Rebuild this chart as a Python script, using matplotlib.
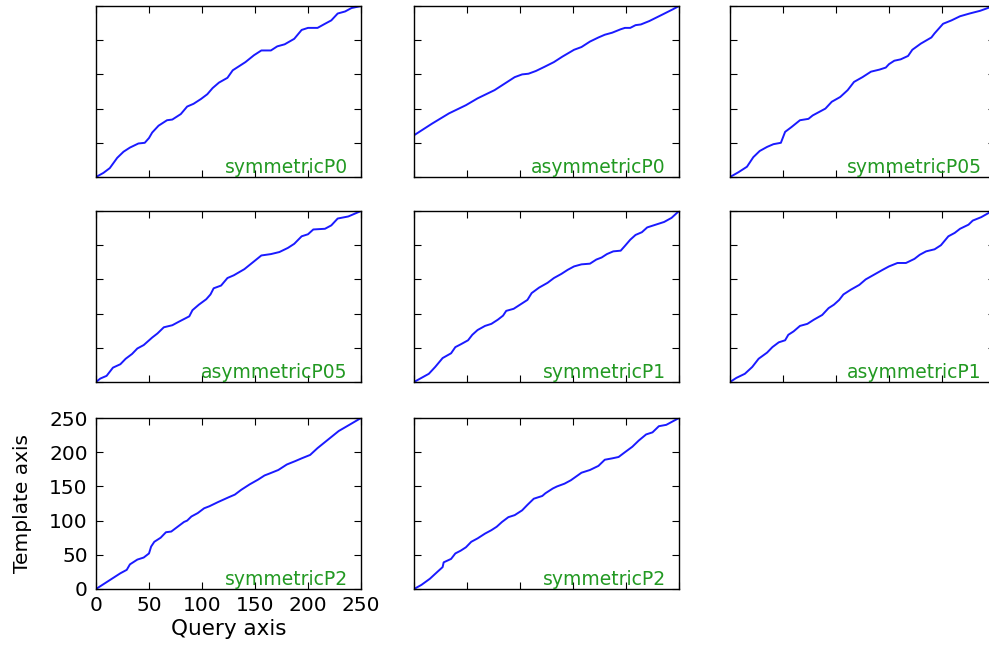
import matplotlib
matplotlib.use("Agg")
import matplotlib.pyplot as plt

# Warping paths (query index, template index)
sym_p0_x = [0, 7, 13, 20, 26, 32, 40, 46, 50, 53, 59, 67, 72, 80, 86, 92, 99, 105, 110,
            116, 124, 129, 135, 141, 149, 156, 165, 171, 178, 187, 194, 200, 209, 216,
            222, 228, 235, 241, 250]
sym_p0_y = [0, 6, 13, 28, 37, 43, 49, 50, 57, 65, 75, 83, 84, 92, 103, 107, 114, 121, 130,
            138, 145, 156, 162, 168, 178, 185, 185, 191, 194, 202, 215, 218, 218, 224,
            229, 239, 242, 247, 250]

asym_p0_x = [0, 0, 17, 33, 49, 60, 76, 88, 95, 102, 108, 115, 123, 132, 140, 151, 158,
             166, 174, 180, 187, 195, 199, 204, 209, 214, 222, 235, 244, 250]
asym_p0_y = [0, 61, 78, 93, 105, 115, 127, 139, 146, 150, 151, 155, 161, 168, 176, 186,
             190, 198, 204, 208, 211, 216, 218, 218, 222, 223, 228, 238, 245, 250]

sym_p05_x = [0, 8, 16, 22, 28, 35, 41, 48, 52, 58, 66, 74, 78, 84, 90, 96, 104, 111, 117,
             125, 133, 141, 147, 150, 155, 161, 168, 172, 180, 190, 193, 201, 209, 217,
             226, 236, 245, 250]
sym_p05_y = [0, 7, 15, 29, 38, 44, 48, 50, 66, 73, 83, 85, 90, 95, 100, 110, 117, 127, 139,
             146, 154, 157, 160, 165, 170, 172, 177, 186, 195, 204, 210, 224, 229, 235,
             239, 243, 248, 250]

asym_p05_x = [0, 4, 10, 16, 23, 28, 34, 39, 45, 53, 58, 64, 72, 78, 88, 91, 97, 104, 108,
              111, 118, 124, 130, 140, 148, 152, 156, 165, 173, 181, 187, 194, 200, 205,
              216, 222, 228, 238, 250]
asym_p05_y = [0, 5, 9, 21, 26, 34, 41, 49, 54, 65, 71, 80, 83, 88, 96, 105, 113, 121, 128,
              137, 141, 152, 156, 165, 175, 180, 185, 187, 190, 196, 202, 213, 216, 223,
              224, 229, 239, 242, 250]

sym_p1_x = [0, 7, 14, 20, 27, 35, 39, 44, 51, 55, 60, 67, 73, 79, 84, 87, 94, 100, 107,
            111, 118, 126, 132, 139, 145, 151, 158, 166, 172, 177, 182, 188, 195, 199,
            204, 209, 215, 220, 228, 236, 243, 250]
sym_p1_y = [0, 6, 12, 22, 35, 42, 51, 55, 61, 69, 76, 82, 85, 91, 97, 104, 107, 113, 120,
            130, 138, 145, 152, 158, 164, 169, 172, 173, 179, 182, 187, 191, 192, 199,
            208, 215, 219, 226, 230, 234, 240, 250]

asym_p1_x = [0, 6, 14, 21, 27, 35, 40, 46, 52, 55, 60, 66, 73, 79, 87, 93, 98, 103, 107,
             114, 122, 128, 136, 144, 150, 158, 166, 174, 179, 185, 193, 199, 206, 212,
             217, 225, 229, 237, 245, 250]
asym_p1_y = [0, 6, 12, 22, 34, 43, 51, 58, 61, 69, 74, 82, 85, 91, 98, 108, 113, 120, 128,
             135, 142, 150, 157, 164, 169, 174, 174, 180, 186, 191, 194, 200, 213, 218,
             224, 230, 236, 241, 248, 250]

sym_p2a_x = [0, 7, 17, 23, 29, 32, 39, 45, 50, 52, 55, 61, 66, 71, 77, 83, 86, 90, 96,
             102, 107, 115, 125, 131, 137, 145, 153, 159, 164, 172, 180, 188, 194, 202,
             209, 213, 221, 229, 239, 250]
sym_p2a_y = [0, 7, 17, 23, 28, 36, 43, 46, 52, 62, 69, 75, 83, 84, 91, 98, 100, 106, 111,
             118, 121, 127, 134, 138, 145, 153, 160, 166, 169, 174, 182, 187, 191, 196,
             206, 211, 221, 231, 240, 250]

sym_p2b_x = [0, 7, 15, 22, 27, 28, 35, 39, 44, 49, 54, 60, 67, 73, 78, 83, 89, 95, 102,
             107, 113, 121, 124, 131, 135, 142, 148, 158, 166, 174, 180, 187, 193, 199,
             206, 212, 219, 225, 231, 238, 244, 250]
sym_p2b_y = [0, 6, 15, 25, 32, 39, 44, 52, 56, 61, 69, 74, 81, 86, 91, 98, 105, 108, 115,
             123, 132, 136, 140, 147, 150, 154, 159, 170, 174, 180, 189, 191, 193, 200,
             208, 217, 226, 229, 238, 240, 245, 250]

panel_names = ["symmetricP0", "asymmetricP0", "symmetricP05",
               "asymmetricP05", "symmetricP1", "asymmetricP1",
               "symmetricP2", "symmetricP2"]
paths = [(sym_p0_x, sym_p0_y), (asym_p0_x, asym_p0_y), (sym_p05_x, sym_p05_y),
         (asym_p05_x, asym_p05_y), (sym_p1_x, sym_p1_y), (asym_p1_x, asym_p1_y),
         (sym_p2a_x, sym_p2a_y), (sym_p2b_x, sym_p2b_y)]
ticks = [0, 50, 100, 150, 200, 250]

plt.rcParams.update({
    "font.size": 14,
    "xtick.labelsize": 14.5, "ytick.labelsize": 14.5,
    "xtick.direction": "in", "ytick.direction": "in",
    "xtick.top": True, "ytick.right": True,
    "xtick.major.size": 5, "ytick.major.size": 5,
    "xtick.major.pad": 5, "ytick.major.pad": 6,
    "axes.linewidth": 1.0,
})

W, H = 989, 647
fig = plt.figure(figsize=(W / 100, H / 100), dpi=100, facecolor="white")

# pixel layout of the 3x3 grid (right column runs past the figure edge)
col_left = [96, 414, 730]
row_top = [6, 211, 418]
ax_w, ax_h = 265, 171

for i, (name, (px, py)) in enumerate(zip(panel_names, paths)):
    r, c = divmod(i, 3)
    left = col_left[c] / W
    bottom = (H - row_top[r] - ax_h) / H
    ax = fig.add_axes([left, bottom, ax_w / W, ax_h / H])
    ax.plot(px, py, color="#1a1aff", linewidth=1.4)
    ax.set_xlim(0, 250)
    ax.set_ylim(0, 250)
    ax.set_xticks(ticks)
    ax.set_yticks(ticks)
    ax.text(0.95, 0.0, name, transform=ax.transAxes, ha="right", va="bottom",
            color="#229922", fontsize=13.5)
    if i == 6:
        ax.set_xlabel("Query axis", fontsize=15.5, labelpad=3)
        ax.set_ylabel("Template axis", fontsize=14.5, labelpad=12)
    else:
        ax.set_xticklabels([])
        ax.set_yticklabels([])

fig.savefig("out.png", dpi=100, facecolor="white")
